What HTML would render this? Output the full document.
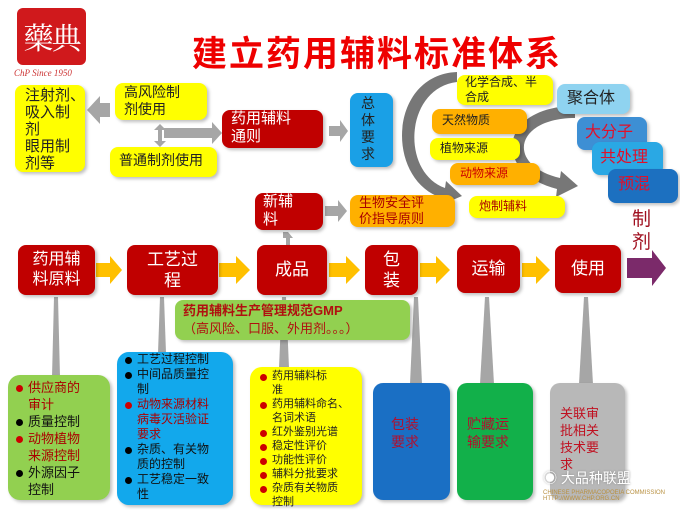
<!DOCTYPE html>
<html><head><meta charset="utf-8"><style>
body{margin:0;width:680px;height:510px;background:#fff;position:relative;overflow:hidden;font-family:"Liberation Sans","Noto Sans CJK SC",sans-serif;}
.b{position:absolute;box-sizing:border-box;border-radius:8px;box-shadow:2px 2px 3px rgba(0,0,0,.25);line-height:1.25;}
.r{background:#c00000;color:#fff;font-size:17px;text-align:center;display:flex;align-items:center;justify-content:center;}
.y{background:#ffff00;color:#222;font-size:14px;}
.o{background:#ffb000;}
ul{margin:0;padding:0;list-style:none;}
li{position:relative;padding-left:14px;}
li:before{content:"";position:absolute;left:2px;top:0.45em;width:7px;height:7px;border-radius:50%;background:#000;}
li.rd:before{background:#c00;}
.abs{position:absolute;}
</style></head><body>
<div class="abs" style="left:17px;top:8px;width:69px;height:57px;background:#d0191c;border-radius:6px;color:#fff;font-size:30px;line-height:57px;text-align:center;letter-spacing:-2px;font-family:'Noto Serif CJK SC',serif;">藥典</div>
<div class="abs" style="left:14px;top:68px;font-size:9px;color:#c33;font-style:italic;font-family:'Liberation Serif',serif;">ChP Since 1950</div>
<div class="abs" style="left:192px;top:26px;font-size:35px;font-weight:bold;color:#e00;letter-spacing:2px;">建立药用辅料标准体系</div>

<svg class="abs" style="left:0;top:0" width="680" height="510">
<g fill="#a6a6a6">
<polygon points="110,103 100,103 100,96 87,110 100,124 100,117 110,117"/>
<polygon points="160,124 154,130 158,130 158,141 154,141 160,147 166,141 162,141 162,130 166,130"/>
<polygon points="164,128 212,128 212,122 222,133 212,144 212,138 164,138"/>
<polygon points="329,126 340,126 340,120 348,131 340,142 340,136 329,136"/>
<polygon points="325,206 338,206 338,200 347,211 338,222 338,216 325,216"/>
<polygon points="283,232 283,238 286,238 286,245 290,245 290,238 293,238 288,232"/>
<polygon points="54,297 58,297 60,377 52,377"/>
<polygon points="160,297 164,297 166,353 158,353"/>
<polygon points="282,297 286,297 289,368 279,368"/>
<polygon points="414,297 418,297 422,384 410,384"/>
<polygon points="485,297 489,297 494,384 480,384"/>
<polygon points="584,297 588,297 593,384 579,384"/>
</g>
<g fill="#777">
<path d="M457,82 C405,88 400,172 445,188 L446,181 L462,196 L441,205 L442,198 C385,180 388,75 457,72 Z"/>
<path d="M575,118 C515,118 505,165 560,178 L561,171 L578,186 L556,197 L557,189 C490,172 500,106 575,106 Z"/>
</g>
<g fill="#ffc000">
<polygon points="96,263 110,263 110,256 122,270 110,284 110,277 96,277"/>
<polygon points="219,263 236,263 236,256 250,270 236,284 236,277 219,277"/>
<polygon points="329,263 346,263 346,256 360,270 346,284 346,277 329,277"/>
<polygon points="420,263 436,263 436,256 450,270 436,284 436,277 420,277"/>
<polygon points="522,263 536,263 536,256 550,270 536,284 536,277 522,277"/>
</g>
<polygon fill="#7b2a6a" points="627,258 652,258 652,250 666,268 652,286 652,278 627,278"/>
</svg>

<div class="b y" style="left:15px;top:85px;width:70px;height:87px;padding:2px 0 0 10px;font-size:15px;line-height:17px;">注射剂、<br>吸入制<br>剂<br>眼用制<br>剂等</div>
<div class="b y" style="left:115px;top:83px;width:92px;height:37px;padding:1px 0 0 9px;font-size:14px;line-height:17px;">高风险制<br>剂使用</div>
<div class="b y" style="left:110px;top:147px;width:107px;height:30px;padding:5px 0 0 9px;font-size:14px;">普通制剂使用</div>
<div class="b r" style="left:222px;top:110px;width:101px;height:38px;display:block;text-align:left;padding:0 0 0 9px;font-size:15px;line-height:18px;">药用辅料<br>通则</div>
<div class="b" style="left:350px;top:93px;width:43px;height:74px;background:#1aa0e6;color:#222;font-size:14px;line-height:17px;padding:2px 0 0 11px;">总<br>体<br>要<br>求</div>

<div class="b y" style="left:457px;top:75px;width:96px;height:30px;padding:0 0 0 8px;font-size:12px;line-height:15px;">化学合成、半<br>合成</div>
<div class="b o" style="left:432px;top:109px;width:95px;height:25px;padding:4px 0 0 10px;font-size:12px;color:#222;">天然物质</div>
<div class="b y" style="left:430px;top:138px;width:90px;height:22px;padding:3px 0 0 10px;font-size:12px;">植物来源</div>
<div class="b o" style="left:450px;top:163px;width:90px;height:22px;padding:3px 0 0 10px;font-size:12px;color:#c00;">动物来源</div>
<div class="b y" style="left:469px;top:196px;width:96px;height:22px;padding:3px 0 0 10px;font-size:12px;color:#a00;">炮制辅料</div>

<div class="b" style="left:557px;top:84px;width:73px;height:30px;background:#8fd3f0;font-size:16px;color:#222;padding:5px 0 0 10px;">聚合体</div>
<div class="b" style="left:577px;top:117px;width:70px;height:33px;background:#3d8fd4;font-size:16px;color:#e0102a;padding:6px 0 0 8px;">大分子</div>
<div class="b" style="left:592px;top:142px;width:71px;height:33px;background:#2aa8e4;font-size:16px;color:#e0102a;padding:6px 0 0 8px;">共处理</div>
<div class="b" style="left:608px;top:169px;width:70px;height:34px;background:#1c70c0;font-size:16px;color:#e0102a;padding:6px 0 0 10px;">预混</div>
<div class="abs" style="left:632px;top:208px;font-size:19px;line-height:23px;color:#a01020;">制<br>剂</div>

<div class="b r" style="left:255px;top:193px;width:68px;height:37px;display:block;text-align:left;padding:0 0 0 8px;font-size:15px;line-height:18px;">新辅<br>料</div>
<div class="b o" style="left:350px;top:195px;width:105px;height:32px;padding:0 0 0 9px;font-size:13px;line-height:16px;color:#a00;">生物安全评<br>价指导原则</div>

<div class="b r" style="left:18px;top:245px;width:77px;height:50px;font-size:16px;">药用辅<br>料原料</div>
<div class="b r" style="left:127px;top:245px;width:91px;height:50px;font-size:17px;">工艺过<br>程</div>
<div class="b r" style="left:257px;top:245px;width:70px;height:50px;font-size:17px;">成品</div>
<div class="b r" style="left:365px;top:245px;width:53px;height:50px;font-size:17px;">包<br>装</div>
<div class="b r" style="left:457px;top:245px;width:63px;height:48px;font-size:17px;">运输</div>
<div class="b r" style="left:555px;top:245px;width:66px;height:48px;font-size:17px;">使用</div>

<div class="b" style="left:175px;top:300px;width:235px;height:40px;background:#92d050;color:#b01010;font-size:13px;line-height:18px;padding:2px 0 0 8px;"><b>药用辅料生产管理规范GMP</b><br>（高风险、口服、外用剂。。。）</div>

<div class="b" style="left:8px;top:375px;width:102px;height:125px;background:#92d050;font-size:13px;line-height:17px;padding:4px 0 0 6px;color:#111;border-radius:12px;">
<ul><li class="rd" style="color:#a00">供应商的<br>审计</li><li>质量控制</li><li class="rd" style="color:#a00">动物植物<br>来源控制</li><li>外源因子<br>控制</li></ul></div>
<div class="b" style="left:117px;top:352px;width:116px;height:153px;background:#12a8ec;font-size:12px;line-height:15px;padding:0 0 0 6px;color:#111;border-radius:12px;">
<ul><li>工艺过程控制</li><li>中间品质量控<br>制</li><li class="rd" style="color:#a00">动物来源材料<br>病毒灭活验证<br>要求</li><li>杂质、有关物<br>质的控制</li><li>工艺稳定一致<br>性</li></ul></div>
<div class="b" style="left:250px;top:367px;width:112px;height:138px;background:#ffff00;font-size:11px;line-height:14px;padding:2px 0 0 8px;color:#222;border-radius:12px;">
<ul><li class="rd">药用辅料标<br>准</li><li class="rd">药用辅料命名、<br>名词术语</li><li class="rd">红外鉴别光谱</li><li class="rd">稳定性评价</li><li class="rd">功能性评价</li><li class="rd">辅料分批要求</li><li class="rd">杂质有关物质<br>控制</li></ul></div>
<div class="b" style="left:373px;top:383px;width:77px;height:117px;background:#1a6fc4;color:#b01030;font-size:14px;line-height:18px;padding:32px 0 0 18px;border-radius:10px;">包装<br>要求</div>
<div class="b" style="left:457px;top:383px;width:76px;height:117px;background:#12b04a;color:#b01030;font-size:14px;line-height:18px;padding:32px 0 0 10px;border-radius:10px;">贮藏运<br>输要求</div>
<div class="b" style="left:550px;top:383px;width:75px;height:117px;background:#b8b8b8;color:#c01020;font-size:13px;line-height:17px;padding:22px 0 0 10px;border-radius:10px;">关联审<br>批相关<br>技术要<br>求</div>
<div class="abs" style="left:543px;top:468px;font-size:14px;color:#fff;text-shadow:0 0 2px #888;">◉ 大品种联盟</div>
<div class="abs" style="left:543px;top:490px;font-size:6px;color:#b89040;">CHINESE PHARMACOPOEIA COMMISSION<br>HTTP://WWW.CHP.ORG.CN</div>
</body></html>
